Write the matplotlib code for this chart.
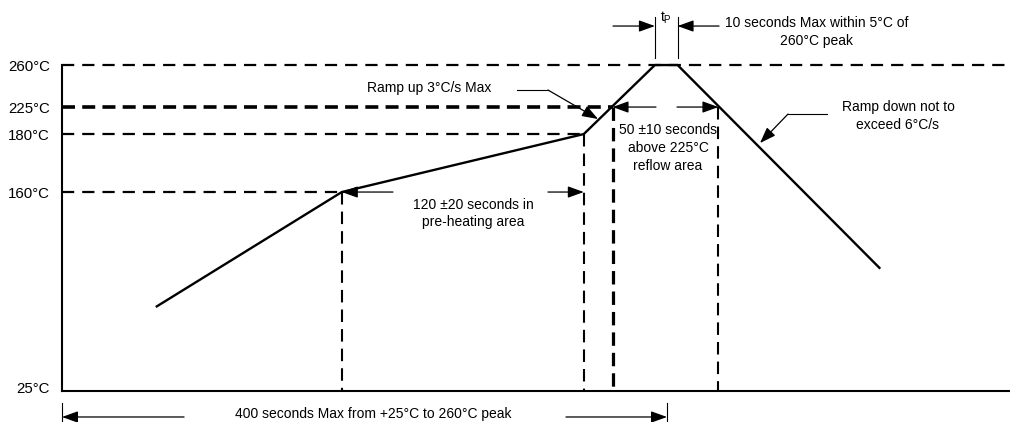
import numpy as np
import matplotlib
matplotlib.use('Agg')
import matplotlib.pyplot as plt
from matplotlib.transforms import ScaledTranslation

plt.rcParams['font.family'] = ['Liberation Sans Narrow', 'Liberation Sans', 'DejaVu Sans']

# ---------------- data ----------------
profile_time = [62, 185, 345, 392, 407, 541]      # seconds
profile_temp = [82, 160, 180, 260, 260, 108]      # °C
temp_levels = [25, 160, 180, 225, 260]
temp_labels = ['25°C', '160°C', '180°C', '225°C', '260°C']
t_preheat_start, t_preheat_end = 185, 345
t_225_up, t_225_down = 364, 434
t_peak_start, t_peak_end = 392, 407
t_total_max = 400

# schematic (non-linear) temperature axis knots
scale_temp = [-200, 25, 160, 180, 225, 260, 500]
scale_pos = [-300.7, 31, 230, 288, 315, 357, 645]

FS = 10.0
K = 'black'

def fwd(T):
    return np.interp(T, scale_temp, scale_pos)

def inv(h):
    return np.interp(h, scale_pos, scale_temp)

fig = plt.figure(figsize=(10.1, 4.22), dpi=100)
ax = fig.add_axes([62 / 1010, 0, (1010 - 62) / 1010, 1])
ax.set_yscale('function', functions=(fwd, inv))
XMAX = (1010 - 62) / 1.5125
ax.set_xlim(0, XMAX)
ax.set_ylim(4.0, 314.2)

# spines as axes
for s in ['top', 'right']:
    ax.spines[s].set_visible(False)
ax.spines['left'].set_bounds(25, 260)
ax.spines['left'].set_linewidth(1.5)
ax.spines['bottom'].set_position(('data', 25))
ax.spines['bottom'].set_bounds(0, XMAX)
ax.spines['bottom'].set_linewidth(1.5)
ax.set_xticks([])
ax.set_yticks(temp_levels, temp_labels)
ax.tick_params(axis='y', length=0, pad=8.6, labelsize=10.8)
tk = ax.yaxis.get_major_ticks()[0]
tk.label1.set_transform(tk.label1.get_transform() + ScaledTranslation(0, 4 / 100, fig.dpi_scale_trans))

# dashed reference lines
thin = dict(color=K, lw=1.6, dashes=(5.5, 3.6), clip_on=False)
thick = dict(color=K, lw=2.6, dashes=(3.6, 2.0), clip_on=False)
vthin = dict(color=K, lw=1.5, dashes=(6.0, 3.4), clip_on=False)
vthick = dict(color=K, lw=2.3, dashes=(4.2, 2.2), clip_on=False)
ax.plot([0, XMAX], [temp_levels[4]] * 2, **thin)
ax.plot([0, t_225_up], [temp_levels[3]] * 2, **thick)
ax.plot([0, t_preheat_end], [temp_levels[2]] * 2, **thin)
ax.plot([0, t_preheat_start], [temp_levels[1]] * 2, **thin)
ax.plot([t_preheat_start] * 2, [temp_levels[1], temp_levels[0]], **vthin)
ax.plot([t_preheat_end] * 2, [temp_levels[2], temp_levels[0]], **vthin)
ax.plot([t_225_up] * 2, [temp_levels[3], temp_levels[0]], **vthick)
ax.plot([t_225_down] * 2, [temp_levels[3], temp_levels[0]], **vthin)

# profile
ax.plot(profile_time, profile_temp, color=K, lw=1.7, solid_capstyle='butt', zorder=5)

def arrow(x0, y0, x1, y1):
    ax.annotate('', xy=(x1, y1), xytext=(x0, y0), annotation_clip=False,
                arrowprops=dict(arrowstyle='-|>,head_length=0.75,head_width=0.27',
                                mutation_scale=13, lw=0.9, color=K,
                                shrinkA=0, shrinkB=0))

def text(x, y, s, **kw):
    ax.text(x, y, s, ha='center', va='center', fontsize=FS, color=K, **kw)

# tP
yt = 292.5
arrow(364.3, yt, t_peak_start, yt)
arrow(434.4, yt, t_peak_end, yt)
ax.plot([t_peak_start] * 2, [265.8, 300], color=K, lw=0.8, clip_on=False)
ax.plot([t_peak_end] * 2, [265.8, 300], color=K, lw=0.8, clip_on=False)
ax.text((t_peak_start + t_peak_end) / 2, 299, r'$\mathregular{t_P}$', ha='center',
        va='center', fontsize=FS)
text(499, 287.5, '10 seconds Max within 5°C of\n260°C peak', linespacing=1.4)

# ramp up
text(242.6, 240.8, 'Ramp up 3°C/s Max')
ax.plot([300.8, 321.3], [239.2, 239.2], color=K, lw=0.8)
arrow(321.3, 239.2, 354.4, 205)

# preheating
arrow(218.8, 160, t_preheat_start, 160)
arrow(321.3, 160, t_preheat_end, 160)
text(271.7, 145.4, '120 ±20 seconds in\npre-heating area', linespacing=1.35)

# reflow
arrow(392.7, 225, t_225_up, 225)
arrow(406.6, 225, t_225_down, 225)
text(400.7, 175.2, '50 ±10 seconds\nabove 225°C\nreflow area', linespacing=1.4)

# ramp down
text(552.7, 210, 'Ramp down not to\nexceed 6°C/s', linespacing=1.3)
ax.plot([505.8, 480], [213.3, 213.3], color=K, lw=0.8)
arrow(480, 213.3, 461.5, 176.9)

# total time
yb = 7.4
arrow(80.7, yb, 0, yb)
arrow(333.2, yb, t_total_max, yb)
ax.plot([0, 0], [16.9, 4.0], color=K, lw=0.8, clip_on=False)
ax.plot([t_total_max] * 2, [16.9, 4.0], color=K, lw=0.8, clip_on=False)
text(205.9, 9.4, '400 seconds Max from +25°C to 260°C peak')

fig.savefig('out.png', dpi=100)
